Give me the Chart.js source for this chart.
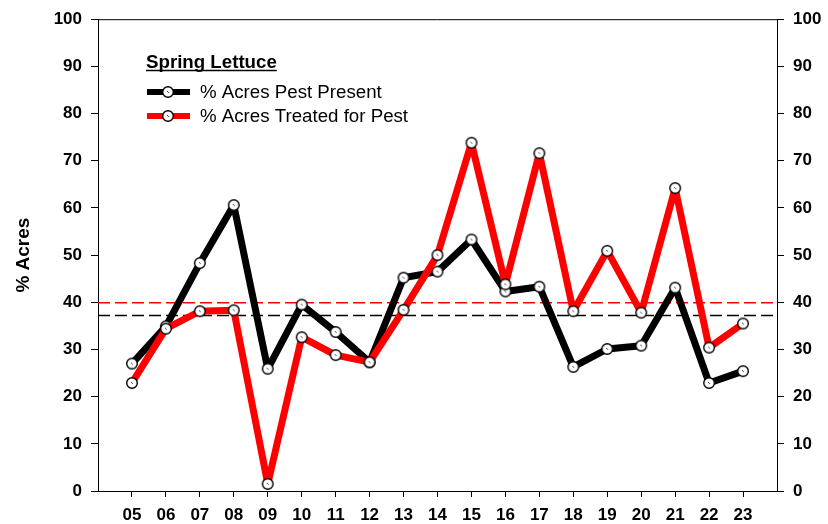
<!DOCTYPE html>
<html>
<head>
<meta charset="utf-8">
<script src="https://cdn.jsdelivr.net/npm/chart.js@4.4.1/dist/chart.umd.min.js"></script>
<style>
  html, body { margin: 0; padding: 0; background: #ffffff; }
  #wrap { width: 828px; height: 524px; position: relative; }
</style>
</head>
<body>
<div id="wrap"><canvas id="chart"></canvas></div>
<script>
// Valores (Spring Lettuce)
const years = ["05", "06", "07", "08", "09", "10", "11", "12", "13", "14", "15", "16", "17", "18", "19", "20", "21", "22", "23"];
const pestPresent = [27.0, 34.9, 48.3, 60.6, 25.9, 39.5, 33.7, 27.3, 45.2, 46.5, 53.3, 42.3, 43.3, 26.3, 30.1, 30.8, 43.1, 22.9, 25.4];
const treatedForPest = [22.9, 34.4, 38.1, 38.3, 1.5, 32.6, 28.8, 27.3, 38.4, 50.0, 73.8, 43.8, 71.6, 38.1, 50.9, 37.8, 64.2, 30.4, 35.5];
const meanPresent = 37.2;
const meanTreated = 39.9;
const yTicks = [0, 10, 20, 30, 40, 50, 60, 70, 80, 90, 100];

const FONT = "'Liberation Sans', Arial, Helvetica, sans-serif";
const RED = "#ff0000";

/** Marcador: círculo branco com borda preta e um pequeno traço no centro. */
function makeMarker() {
  const c = document.createElement("canvas");
  c.width = 14;
  c.height = 14;
  const g = c.getContext("2d");
  g.beginPath();
  g.arc(7, 7, 5.3, 0, Math.PI * 2);
  g.fillStyle = "#ffffff";
  g.fill();
  g.lineWidth = 1.4;
  g.strokeStyle = "#000000";
  g.stroke();
  g.beginPath();
  g.moveTo(6.3, 6.3);
  g.lineTo(7.6, 7.6);
  g.lineWidth = 1;
  g.stroke();
  return c;
}
const marker = makeMarker();

const toPoints = (arr) => arr.map((v, i) => ({ x: parseInt(years[i], 10), y: v }));
const xMin = parseInt(years[0], 10) - 1;
const xMax = parseInt(years[years.length - 1], 10) + 1;
const flat = (v) => [{ x: xMin, y: v }, { x: xMax, y: v }];

// Legenda desenhada à mão dentro da área do gráfico + borda superior
const extrasPlugin = {
  id: "extras",
  afterDraw(chart) {
    const ctx = chart.ctx;
    const area = chart.chartArea;
    ctx.save();

    // borda superior
    ctx.beginPath();
    ctx.moveTo(area.left, area.top + 0.5);
    ctx.lineTo(area.right, area.top + 0.5);
    ctx.lineWidth = 1;
    ctx.strokeStyle = "#000";
    ctx.stroke();

    // título da legenda
    ctx.fillStyle = "#000";
    ctx.font = "bold 18.7px " + FONT;
    ctx.textBaseline = "alphabetic";
    const title = "Spring Lettuce";
    ctx.fillText(title, 146, 68);
    const w = ctx.measureText(title).width;
    ctx.beginPath();
    ctx.moveTo(146, 70.5);
    ctx.lineTo(146 + w, 70.5);
    ctx.lineWidth = 1.5;
    ctx.stroke();

    const items = [
      { label: "% Acres Pest Present", color: "#000000", y: 92 },
      { label: "% Acres Treated for Pest", color: RED, y: 116 }
    ];
    items.forEach((it) => {
      ctx.beginPath();
      ctx.moveTo(147, it.y);
      ctx.lineTo(190, it.y);
      ctx.lineWidth = 6;
      ctx.strokeStyle = it.color;
      ctx.stroke();
      ctx.drawImage(marker, 168 - 7, it.y - 7);
      ctx.fillStyle = "#000";
      ctx.font = "18.7px " + FONT;
      ctx.textBaseline = "middle";
      ctx.fillText(it.label, 200, it.y + 1);
    });

    ctx.restore();
  }
};

const yTickOpts = {
  color: "#000",
  font: { family: FONT, size: 17, weight: "bold" },
  padding: 9
};

new Chart(document.getElementById("chart"), {
  type: "line",
  data: {
    datasets: [
      {
        label: "% Acres Treated for Pest",
        data: toPoints(treatedForPest),
        borderColor: RED,
        backgroundColor: RED,
        borderWidth: 7,
        borderJoinStyle: "round",
        pointStyle: marker,
        pointRadius: 6,
        tension: 0,
        order: 1
      },
      {
        label: "% Acres Pest Present",
        data: toPoints(pestPresent),
        borderColor: "#000000",
        backgroundColor: "#000000",
        borderWidth: 7,
        borderJoinStyle: "round",
        pointStyle: marker,
        pointRadius: 6,
        tension: 0,
        order: 2
      },
      {
        label: "mean treated",
        data: flat(meanTreated),
        borderColor: RED,
        borderWidth: 1.6,
        borderDash: [12, 5],
        pointRadius: 0,
        order: 3
      },
      {
        label: "mean present",
        data: flat(meanPresent),
        borderColor: "#000000",
        borderWidth: 1.6,
        borderDash: [12, 5],
        pointRadius: 0,
        order: 4
      }
    ]
  },
  options: {
    responsive: true,
    maintainAspectRatio: false,
    animation: false,
    layout: { padding: { top: 18, left: 0, right: 0, bottom: 0 } },
    plugins: {
      legend: { display: false },
      tooltip: { enabled: false }
    },
    scales: {
      x: {
        type: "linear",
        min: xMin,
        max: xMax,
        afterBuildTicks: (scale) => {
          scale.ticks = years.map((y) => ({ value: parseInt(y, 10) }));
        },
        afterFit: (scale) => {
          scale.height = 33;
        },
        border: { display: true, color: "#000", width: 1 },
        grid: { drawOnChartArea: false, drawTicks: true, tickLength: 6, color: "#000" },
        ticks: {
          color: "#000",
          font: { family: FONT, size: 17, weight: "bold" },
          padding: 8,
          maxRotation: 0,
          autoSkip: false,
          callback: (value) => String(value).padStart(2, "0")
        }
      },
      y: {
        position: "left",
        min: 0,
        max: 100,
        afterBuildTicks: (scale) => {
          scale.ticks = yTicks.map((v) => ({ value: v }));
        },
        afterFit: (scale) => {
          scale.width = 98;
        },
        border: { display: true, color: "#000", width: 1 },
        grid: { drawOnChartArea: false, drawTicks: true, tickLength: 7, color: "#000" },
        ticks: yTickOpts,
        title: {
          display: true,
          text: "% Acres",
          color: "#000",
          font: { family: FONT, size: 19, weight: "bold" },
          padding: { top: 12, bottom: 0 }
        }
      },
      y2: {
        position: "right",
        min: 0,
        max: 100,
        afterBuildTicks: (scale) => {
          scale.ticks = yTicks.map((v) => ({ value: v }));
        },
        afterFit: (scale) => {
          scale.width = 51;
        },
        border: { display: true, color: "#000", width: 1 },
        grid: { drawOnChartArea: false, drawTicks: true, tickLength: 7, color: "#000" },
        ticks: yTickOpts
      }
    }
  },
  plugins: [extrasPlugin]
});
</script>
</body>
</html>
